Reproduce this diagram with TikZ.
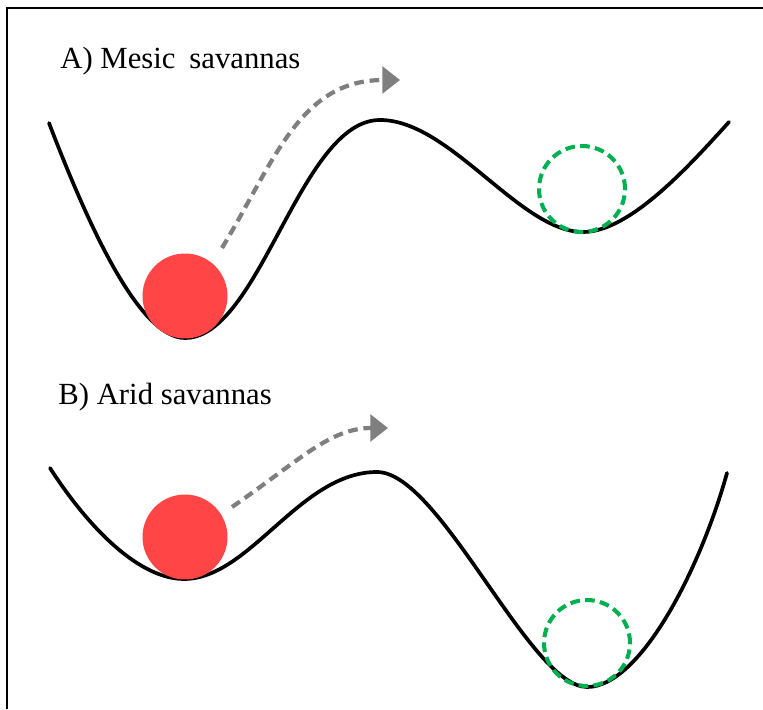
\documentclass[tikz,border=0pt]{standalone}
\usepackage{fontspec}
\setmainfont{Liberation Serif}
\usetikzlibrary{arrows.meta}

\definecolor{ballred}{RGB}{255,69,69}
\definecolor{basingreen}{RGB}{0,176,80}
\definecolor{jumpgray}{RGB}{127,127,127}

\begin{document}
\begin{tikzpicture}[x=0.02cm, y=-0.02cm,
    land/.style={line width=2.1pt, line cap=round},
    ball/.style={circle, fill=ballred, minimum size=1.7cm, inner sep=0pt},
    basin/.style={circle, draw=basingreen, line width=2.3pt,
        dash pattern=on 5.5pt off 3pt, minimum size=1.72cm, inner sep=0pt},
    jump/.style={draw=jumpgray, line width=2.4pt, dash pattern=on 5.5pt off 3.3pt,
        -{Triangle[length=10pt,width=15pt]}},
    panel/.style={anchor=base west, inner sep=0pt, font=\fontsize{17.5}{20}\selectfont}
]

\useasboundingbox (0,0) rectangle (763,709);

% Frame
\draw[line width=1.6pt] (7,709) -- (7,8) -- (763,8);

% A) Mesic savannas
\node[panel] (labelA) at (60,69) {A) Mesic\hspace{0.2em} savannas};
\draw[land] (49,123) .. controls (90,230) and (140,338) .. (185,338)
    .. controls (260,338) and (300,120) .. (380,120)
    .. controls (450,120) and (520,232) .. (583,232)
    .. controls (630,232) and (690,165) .. (729,122);
\node[ball] (redA) at (185,296) {};
\node[basin] (greenA) at (582,189) {};
\coordinate (jumpA0) at (222,248);
\coordinate (jumpA1) at (400,80);
\draw[jump] (jumpA0) .. controls (275,160) and (300,80) .. (jumpA1);

% B) Arid savannas
\node[panel] (labelB) at (58,404) {B) Arid savannas};
\draw[land] (50,468) .. controls (90,530) and (140,579) .. (184,579)
    .. controls (250,579) and (300,472) .. (377,472)
    .. controls (440,472) and (530,687) .. (587,687)
    .. controls (640,687) and (700,570) .. (727,473);
\node[ball] (redB) at (185,537) {};
\node[basin] (greenB) at (587,643) {};
\coordinate (jumpB0) at (232,507);
\coordinate (jumpB1) at (388,428);
\draw[jump] (jumpB0) .. controls (300,460) and (330,428) .. (jumpB1);

\end{tikzpicture}
\end{document}
